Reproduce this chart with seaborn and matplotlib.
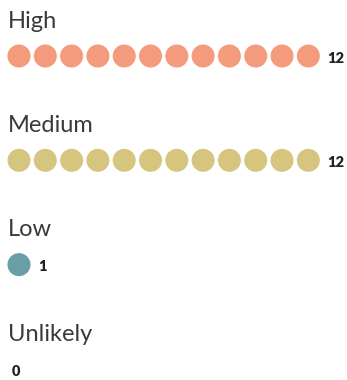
import matplotlib.pyplot as plt
import pandas as pd
import seaborn as sns

categories = ['High', 'Medium', 'Low', 'Unlikely']
counts = [12, 12, 1, 0]
colors = ['#F49B7D', '#D6C57F', '#6A9EA7', '#9E9E9E']

sns.set_theme(style='white')
plt.rcParams['font.family'] = ['Lato', 'DejaVu Sans']

rows = []
for g, (cat, n) in enumerate(zip(categories, counts)):
    for i in range(n):
        rows.append({'category': cat, 'slot': i, 'row': g})
dots = pd.DataFrame(rows)

fig = plt.figure(figsize=(3.47, 3.80), dpi=100)
ax = fig.add_axes([0, 0, 1, 1])

sns.scatterplot(data=dots, x='slot', y='row', hue='category',
                hue_order=categories, palette=colors, s=275,
                linewidth=0, legend=False, ax=ax)

for g, (cat, n) in enumerate(zip(categories, counts)):
    ax.text(-0.42, g - 0.27, cat, fontsize=17, color='#3a3a3a',
            ha='left', va='baseline')
    ax.text(n - 1 + 0.72, g + 0.02, str(n), fontsize=10.5, fontweight='heavy',
            color='#222222', ha='left', va='center')

ax.set_xlim(-0.722, 12.47)
ax.set_ylim(3.106, -0.537)
ax.axis('off')

fig.savefig('out.png', dpi=100)
